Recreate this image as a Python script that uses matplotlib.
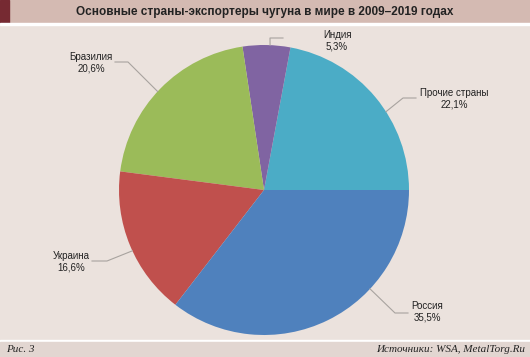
import numpy as np
import matplotlib.pyplot as plt
from matplotlib.patches import Rectangle

countries = ["Прочие страны", "Индия", "Бразилия", "Украина", "Россия"]
shares = [22.1, 5.3, 20.6, 16.6, 35.5]
colors = ["#4bacc6", "#8064a2", "#9bbb59", "#c0504d", "#4f81bd"]

title = "Основные страны-экспортеры чугуна в мире в 2009–2019 годах"
fig_label = "Рис. 3"
source = "Источники: WSA, MetalTorg.Ru"

W, H = 530, 357
fig = plt.figure(figsize=(W / 100, H / 100), dpi=100)
fig.patch.set_facecolor("#ebe2dd")
ax = fig.add_axes([0, 0, 1, 1])


def top(y):
    # pixel row counted from the top -> data y
    return H - y


cx, cy, R = 264, top(190), 145
wedges, _ = ax.pie(shares, colors=colors, startangle=0, counterclock=True,
                   radius=R, center=(cx, cy), wedgeprops=dict(linewidth=0))
ax.set_xlim(0, W)
ax.set_ylim(0, H)
ax.set_aspect("equal")
ax.axis("off")

# header and footer bands
ax.add_patch(Rectangle((0, top(22.5)), W, 22.5, color="#d4bab2", zorder=0))
ax.add_patch(Rectangle((0, top(22.5)), 9, 22.5, color="#762a32", zorder=0))
ax.add_patch(Rectangle((0, top(24.5)), W, 2, color="white", zorder=0))
ax.add_patch(Rectangle((0, top(342)), W, 2, color="white", zorder=0))
ax.add_patch(Rectangle((0, 0), W, H - 342, color="#e2d6d1", zorder=0))

ax.text(265, top(12), title, ha="center", va="center", fontsize=8.5,
        fontweight="bold", family="Liberation Sans", color="#222222")
ax.text(6, top(350), fig_label, ha="left", va="center", fontsize=8,
        style="italic", family="Liberation Serif", color="#222222")
ax.text(525, top(350), source, ha="right", va="center", fontsize=8,
        style="italic", family="Liberation Serif", color="#222222")

# label placement: text centre, edge angle, elbow, line end
layout = [
    ((454, 99), 32.7, (403, 98), (416, 98)),
    ((337, 40.5), 87.6, (270, 38), (283, 38)),
    ((91, 63), 137.2, (128, 62), (115, 62)),
    ((71, 261.5), 204.8, (107, 261), (92, 261)),
    ((427, 311.5), 317.0, (395, 313), (408, 313)),
]

for name, val, (pos, ang, elbow, end) in zip(countries, shares, layout):
    a = np.radians(ang)
    ex, ey = cx + R * np.cos(a), cy + R * np.sin(a)
    ax.plot([ex, elbow[0], end[0]], [ey, top(elbow[1]), top(end[1])],
            color="#a8a39f", lw=0.8, zorder=3)
    ax.text(pos[0], top(pos[1]), f"{name}\n{val:.1f}%".replace(".", ","),
            ha="center", va="center", fontsize=7, linespacing=1.2,
            family="Liberation Sans", color="#222222")

fig.savefig("out.png", dpi=100, facecolor=fig.get_facecolor())
